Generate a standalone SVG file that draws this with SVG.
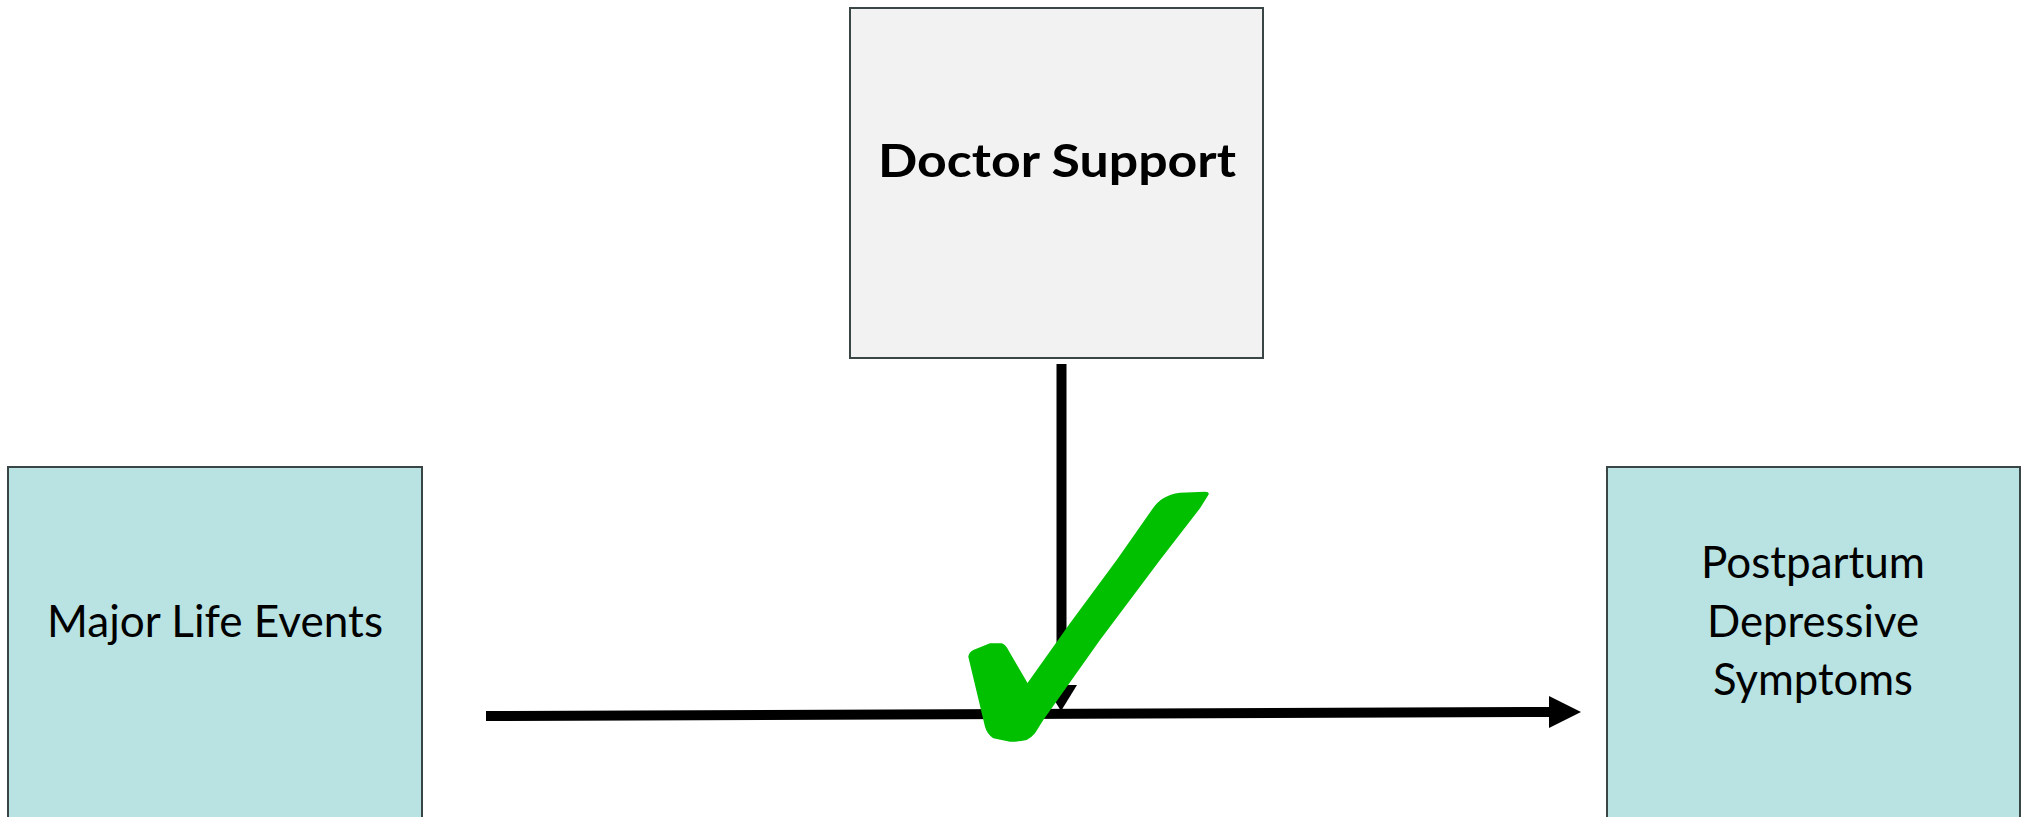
<svg xmlns="http://www.w3.org/2000/svg" width="2023" height="817" viewBox="0 0 2023 817">
<style>
.box{stroke:#3a4646;stroke-width:2}
.teal{fill:#b8e3e2}
.gray{fill:#f2f2f2}
.lbl{font-family:Lato,"Open Sans","Liberation Sans",sans-serif;font-size:45px;fill:#000;text-anchor:middle}
.bold{font-weight:bold}
.conn{stroke:#000;stroke-width:10;fill:none}
</style>
<rect width="2023" height="817" fill="#ffffff"/>
<g id="connectors">
<line class="conn" x1="486" y1="716" x2="1552" y2="712"/>
<polygon points="1549,696 1581,712 1549,728" fill="#000"/>
<line class="conn" x1="1061.5" y1="364" x2="1061.5" y2="690"/>
<polygon points="1045,685 1077,685 1061,711" fill="#000"/>
</g>
<g id="doctor-support">
<rect class="box gray" x="850" y="8" width="413" height="350"/>
<text class="lbl bold" x="1057" y="177" textLength="358" lengthAdjust="spacingAndGlyphs">Doctor Support</text>
</g>
<g id="major-life-events">
<rect class="box teal" x="8" y="467" width="414" height="360"/>
<text class="lbl" x="215" y="637" textLength="336" lengthAdjust="spacingAndGlyphs">Major Life Events</text>
</g>
<g id="postpartum">
<rect class="box teal" x="1607" y="467" width="413" height="360"/>
<text class="lbl" x="1813" y="578" textLength="224" lengthAdjust="spacingAndGlyphs">Postpartum</text>
<text class="lbl" x="1813" y="637" textLength="212" lengthAdjust="spacingAndGlyphs">Depressive</text>
<text class="lbl" x="1813" y="695" textLength="200" lengthAdjust="spacingAndGlyphs">Symptoms</text>
</g>
<g id="checkmark">
<path fill="#00c000" d="M1151.7,510 Q1157,502 1163.3,498.3 Q1170,494 1180,492.7 L1205,491.7 Q1210,492 1208.3,495 L1200,508.3 L1160,560 L1100,640 L1043.3,720 L1035,733.3 Q1031,738 1026.7,740 Q1018,742 1010,741.7 L993.3,738.3 Q987,734 985,726.7 L968.3,656.7 Q969,652 973.3,650 L990,643.3 L1001.7,643.3 Q1006,645 1008.3,650 L1027.5,683 L1070,623.3 L1116.7,560 Z"/>
</g>
</svg>
